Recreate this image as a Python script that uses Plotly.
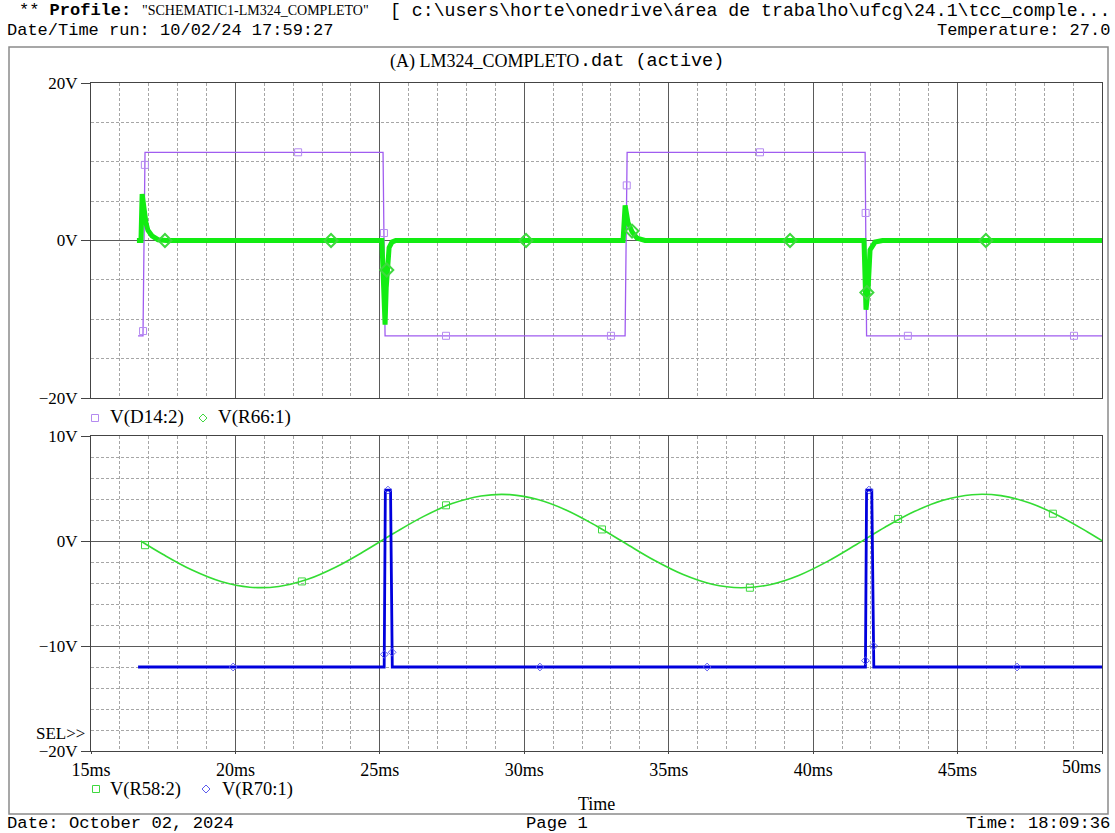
import plotly.graph_objects as go

# ---------------- data (time in ms, voltage in V) ----------------
# Upper plot: V(D14:2) comparator output (square wave)
t_d14 = [16.63, 16.80, 16.87, 25.11, 25.18, 33.49, 33.56, 41.80, 41.85, 50.0]
v_d14 = [-12.1, -12.1, 11.2, 11.2, -12.1, -12.1, 11.2, 11.2, -12.1, -12.1]
mk_d14_t = [16.802, 16.865, 22.17, 25.141, 27.29, 33.0, 33.547, 38.16, 41.817, 43.28, 49.03]
mk_d14_v = [-11.5, 9.6, 11.2, 0.95, -12.1, -12.1, 7.0, 11.2, 3.5, -12.1, -12.1]

# Upper plot: V(R66:1) differentiator output (spikes at each edge)
t_r66 = [16.59, 16.73, 16.77, 16.83, 16.90, 16.97, 17.11, 17.32, 17.60,
         25.07, 25.14, 25.18, 25.22, 25.26, 25.32, 25.42, 25.55,
         33.42, 33.49, 33.59, 33.73, 33.90, 34.18,
         41.76, 41.80, 41.83, 41.90, 41.97, 42.14, 42.40, 50.0]
v_r66 = [0.0, 0.0, 5.9, 3.9, 2.3, 1.3, 0.6, 0.1, 0.0,
         0.0, -8.0, -10.7, -6.0, -2.6, -0.9, -0.2, 0.0,
         0.0, 4.45, 2.3, 1.1, 0.3, 0.0,
         0.0, -6.0, -8.8, -6.3, -1.2, -0.2, 0.0, 0.0]
mk_r66_t = [17.56, 23.31, 25.24, 30.06, 33.73, 39.20, 41.86, 45.98]
mk_r66_v = [0.0, 0.0, -3.75, 0.0, 1.2, 0.0, -6.6, 0.0]

# Lower plot: V(R58:2) 60 Hz input
t_r58 = [16.72, 17.5, 18.5, 19.5, 20.5, 21.5, 22.5, 23.5, 24.5, 25.5, 26.5,
         27.5, 28.5, 29.5, 30.5, 31.5, 32.5, 33.5, 34.5, 35.5, 36.5, 37.5,
         38.5, 39.5, 40.5, 41.5, 42.5, 43.5, 44.5, 45.5, 46.5, 47.5, 48.5,
         49.5, 50.0]
v_r58 = [0.0, -1.29, -2.77, -3.86, -4.40, -4.33, -3.65, -2.45, -0.91, 0.76, 2.32,
         3.56, 4.29, 4.42, 3.93, 2.89, 1.43, -0.22, -1.84, -3.20, -4.12, -4.45,
         -4.16, -3.28, -1.94, -0.33, 1.33, 2.80, 3.88, 4.41, 4.32, 3.62, 2.41,
         0.86, 0.03]
mk_r58_t = [16.87, 22.30, 27.29, 32.69, 37.81, 42.94, 48.30]
mk_r58_v = [-0.4, -3.85, 3.4, 1.1, -4.45, 2.1, 2.6]

# Lower plot: V(R70:1) zero-crossing pulses
t_r70 = [16.63, 25.15, 25.19, 25.37, 25.43, 41.81, 41.85, 42.03, 42.10, 50.0]
v_r70 = [-12.0, -12.0, 4.85, 4.85, -12.0, -12.0, 4.85, 4.85, -12.0, -12.0]
mk_r70_t = [19.92, 25.153, 25.28, 25.425, 30.54, 36.33, 41.811, 41.93, 42.092, 47.06]
mk_r70_v = [-12.0, -10.8, 4.85, -10.6, -12.0, -12.0, -11.4, 4.85, -10.0, -12.0]

x_ticks = [15, 20, 25, 30, 35, 40, 45, 50]
x_text = ["15ms", "20ms", "25ms", "30ms", "35ms", "40ms", "45ms", ""]

# ---------------- styling ----------------
W, H = 1115, 833
MONO = "Liberation Mono"
SERIF = "Liberation Serif"
PURPLE = "#a05cf0"
PURPLE_MK = "#b48af0"
GREEN_TOP = "#12ec12"
GREEN_MK = "#3fd83f"
GREEN_SIN = "#33dc33"
BLUE = "#0000dd"
BLUE_MK = "#5c5cee"
MAJOR = "#5a5a5a"
MINOR = "#a6a6a6"
AXIS = "#444444"


def px(x):
    return x / W


def py(y):
    return 1 - y / H


fig = go.Figure()

# upper plot
fig.add_trace(go.Scatter(x=t_d14, y=v_d14, mode="lines", line=dict(color=PURPLE, width=1.3),
                         xaxis="x", yaxis="y"))
fig.add_trace(go.Scatter(x=mk_d14_t, y=mk_d14_v, mode="markers",
                         marker=dict(symbol="square-open", size=7, color=PURPLE_MK, line=dict(width=1)),
                         xaxis="x", yaxis="y"))
fig.add_trace(go.Scatter(x=t_r66, y=v_r66, mode="lines", line=dict(color=GREEN_TOP, width=5),
                         xaxis="x", yaxis="y"))
fig.add_trace(go.Scatter(x=mk_r66_t, y=mk_r66_v, mode="markers",
                         marker=dict(symbol="diamond-open", size=10, color=GREEN_MK, line=dict(width=2)),
                         xaxis="x", yaxis="y"))

# lower plot
fig.add_trace(go.Scatter(x=t_r58, y=v_r58, mode="lines", line=dict(color=GREEN_SIN, width=1.6, shape="spline"),
                         xaxis="x2", yaxis="y2"))
fig.add_trace(go.Scatter(x=mk_r58_t, y=mk_r58_v, mode="markers",
                         marker=dict(symbol="square-open", size=7, color=GREEN_MK, line=dict(width=1)),
                         xaxis="x2", yaxis="y2"))
fig.add_trace(go.Scatter(x=t_r70, y=v_r70, mode="lines", line=dict(color=BLUE, width=2.8),
                         xaxis="x2", yaxis="y2"))
fig.add_trace(go.Scatter(x=mk_r70_t, y=mk_r70_v, mode="markers",
                         marker=dict(symbol="diamond-open", size=6, color=BLUE_MK, line=dict(width=1)),
                         xaxis="x2", yaxis="y2"))

x_dom = [px(91), px(1102)]
common_x = dict(domain=x_dom, range=[15, 50], tickmode="array", tickvals=x_ticks, automargin=False,
                showgrid=True, gridcolor=MAJOR, gridwidth=1, zeroline=False,
                showline=True, mirror=True, linecolor=AXIS, linewidth=1,
                minor=dict(tickmode="linear", tick0=15, dtick=1, showgrid=True,
                           gridcolor=MINOR, gridwidth=1, griddash="3px,2px"))
common_y = dict(tickmode="linear", tick0=0, ticksuffix="V", showgrid=True, gridcolor=MAJOR,
                gridwidth=1, zeroline=False, showline=True, mirror=True, linecolor=AXIS,
                linewidth=1, ticks="outside", ticklen=9, tickcolor=AXIS, automargin=False,
                tickfont=dict(family=SERIF, size=17, color="black"))

fig.update_layout(
    width=W, height=H, margin=dict(l=0, r=0, t=0, b=0, autoexpand=False),
    paper_bgcolor="white", plot_bgcolor="white", showlegend=False,
    xaxis=dict(common_x, anchor="y", ticktext=["" for _ in x_ticks], showticklabels=False),
    yaxis=dict(common_y, domain=[py(398), py(83)], range=[-20, 20], dtick=20, anchor="x",
               minor=dict(tickmode="linear", tick0=0, dtick=5, showgrid=True,
                          gridcolor=MINOR, gridwidth=1, griddash="3px,2px")),
    xaxis2=dict(common_x, anchor="y2", ticktext=x_text, ticks="outside", ticklen=2,
                tickcolor=AXIS, tickfont=dict(family=SERIF, size=18, color="black")),
    yaxis2=dict(common_y, domain=[py(751), py(436)], range=[-20, 10], dtick=10, anchor="x2",
                minor=dict(tickmode="linear", tick0=0, dtick=2, showgrid=True,
                           gridcolor=MINOR, gridwidth=1, griddash="3px,2px")),
)


def txt(x, y, s, size=17, family=MONO, anchor="left", color="black"):
    fig.add_annotation(x=px(x), y=py(y), xref="paper", yref="paper", text=s, showarrow=False,
                       xanchor=anchor, yanchor="middle", borderpad=0,
                       font=dict(family=family, size=size, color=color))


# page header / footer
txt(18, 11, "** <b>Profile:</b>", 17)
txt(141, 11, '"SCHEMATIC1-LM324_COMPLETO"', 14, SERIF)
txt(1111, 11, r"[ c:\users\horte\onedrive\área de trabalho\ufcg\24.1\tcc_comple...", 18.2, anchor="right")
txt(6, 30, "Date/Time run: 10/02/24 17:59:27", 17)
txt(1111, 30, "Temperature: 27.0", 17, anchor="right")
txt(6, 823, "Date: October 02, 2024", 17.2)
txt(557, 823, "Page 1", 17.2, anchor="center")
txt(1111, 823, "Time: 18:09:36", 17.2, anchor="right")

# plot window texts
txt(580, 61, "(A) LM324_COMPLETO", 18, SERIF, anchor="right")
txt(579, 61, ".dat (active)", 18.5)
txt(86, 733, "SEL&gt;&gt;", 17, SERIF, anchor="right")
txt(1102, 767, "50ms", 18, SERIF, anchor="right")
txt(597, 804, "Time", 18, SERIF, anchor="center")

# legend rows
txt(109, 417, "V(D14:2)", 19, SERIF)
txt(217, 417, "V(R66:1)", 19, SERIF)
txt(109, 789, "V(R58:2)", 18.5, SERIF)
txt(221, 789, "V(R70:1)", 18.5, SERIF)


def sq(cx, cy, color, r=3.5):
    fig.add_shape(type="rect", xref="paper", yref="paper", x0=px(cx - r), x1=px(cx + r),
                  y0=py(cy + r), y1=py(cy - r), line=dict(color=color, width=1))


def dia(cx, cy, color, r=4):
    path = (f"M {px(cx)},{py(cy - r)} L {px(cx + r)},{py(cy)} L {px(cx)},{py(cy + r)} "
            f"L {px(cx - r)},{py(cy)} Z")
    fig.add_shape(type="path", xref="paper", yref="paper", path=path, line=dict(color=color, width=1))


sq(95, 418, PURPLE_MK)
dia(203, 418, GREEN_MK)
sq(96, 789, GREEN_MK)
dia(206, 789, BLUE_MK)

# outer window frame
fig.add_shape(type="rect", xref="paper", yref="paper", x0=px(9), x1=px(1108), y0=py(814), y1=py(47),
              line=dict(color="#8a8a8a", width=1.5), layer="below")

fig.write_html("out.html")
